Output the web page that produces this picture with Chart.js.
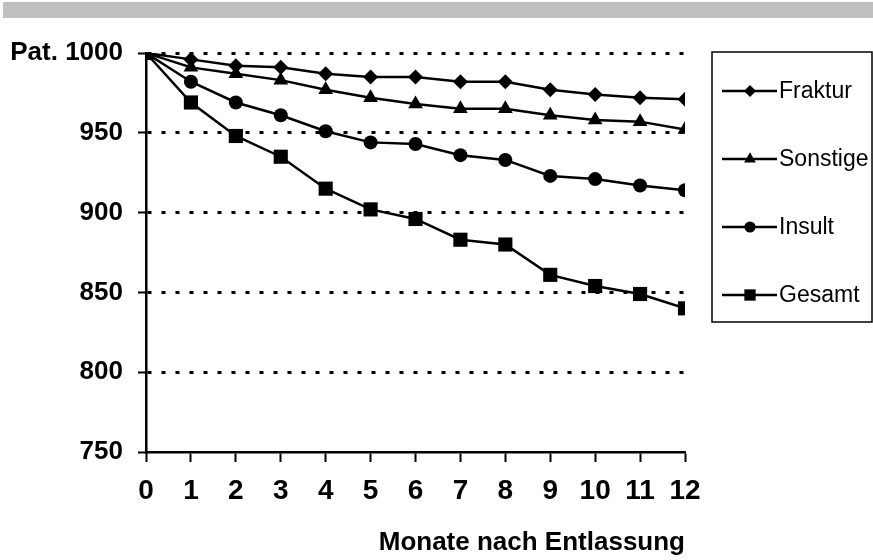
<!DOCTYPE html>
<html>
<head>
<meta charset="utf-8">
<script src="https://cdn.jsdelivr.net/npm/chart.js@4.4.0/dist/chart.umd.min.js"></script>
<style>
  html, body { margin: 0; padding: 0; background: #fff; }
  #wrap { position: relative; width: 873px; height: 560px; }
  #bar { position: absolute; left: 3px; top: 2px; width: 870px; height: 16px; background: #c0c0c0; }
  #chart { position: absolute; left: 0; top: 0; }
</style>
</head>
<body>
<div id="wrap">
  <div id="bar"></div>
  <canvas id="chart" width="873" height="560"></canvas>
</div>
<script>
// months after discharge
const months = [0, 1, 2, 3, 4, 5, 6, 7, 8, 9, 10, 11, 12];

// patients remaining (per 1000)
const fraktur  = [1000, 996, 992, 991, 987, 985, 985, 982, 982, 977, 974, 972, 971];
const sonstige = [1000, 991, 987, 983, 977, 972, 968, 965, 965, 961, 958, 957, 952];
const insult   = [1000, 982, 969, 961, 951, 944, 943, 936, 933, 923, 921, 917, 914];
const gesamt   = [1000, 969, 948, 935, 915, 902, 896, 883, 880, 861, 854, 849, 840];

const seriesLabels = ['Fraktur', 'Sonstige', 'Insult', 'Gesamt'];
const yTicks = [750, 800, 850, 900, 950, 1000];

const FONT = '"Liberation Sans", Arial, sans-serif';

function makeSet(label, values, style, radius) {
    return {
        label: label,
        data: months.map((m, i) => ({ x: m, y: values[i] })),
        borderColor: '#000',
        backgroundColor: '#000',
        borderWidth: 2.5,
        pointStyle: style,
        pointRadius: radius,
        pointHoverRadius: radius,
        pointBorderWidth: 0,
        tension: 0
    };
}

// legend drawn in a framed box at the right
const boxLegend = {
    id: 'boxLegend',
    afterDraw(chart) {
        const ctx = chart.ctx;
        ctx.save();
        ctx.strokeStyle = '#000';
        ctx.lineWidth = 1.5;
        ctx.strokeRect(712, 52, 160, 270);
        const rows = [91, 159, 227, 295];
        chart.data.datasets.forEach((ds, i) => {
            const y = rows[i];
            ctx.strokeStyle = '#000';
            ctx.lineWidth = 2.5;
            ctx.beginPath();
            ctx.moveTo(722, y);
            ctx.lineTo(777, y);
            ctx.stroke();
            ctx.fillStyle = '#000';
            Chart.helpers.drawPoint(ctx, {
                pointStyle: ds.pointStyle,
                radius: ds.pointRadius * 0.8,
                borderWidth: 0,
                rotation: 0
            }, 750, y);
            ctx.fillStyle = '#000';
            ctx.font = '23px ' + FONT;
            ctx.textAlign = 'left';
            ctx.textBaseline = 'middle';
            ctx.fillText(ds.label, 779, y + 1);
        });
        ctx.restore();
    }
};

const ctx = document.getElementById('chart').getContext('2d');
new Chart(ctx, {
    type: 'line',
    data: {
        datasets: [
            makeSet(seriesLabels[0], fraktur, 'rectRot', 7.5),
            makeSet(seriesLabels[1], sonstige, 'triangle', 8.5),
            makeSet(seriesLabels[2], insult, 'circle', 7),
            makeSet(seriesLabels[3], gesamt, 'rect', 10)
        ]
    },
    options: {
        responsive: false,
        animation: false,
        layout: {
            padding: { top: 53, right: 188, left: 0, bottom: 0 }
        },
        plugins: {
            legend: { display: false },
            tooltip: { enabled: false }
        },
        scales: {
            x: {
                type: 'linear',
                min: 0,
                max: 12,
                afterFit: (scale) => { scale.height = 108; },
                ticks: {
                    stepSize: 1,
                    color: '#000',
                    padding: 12,
                    font: { family: FONT, size: 28, weight: 'bold' }
                },
                grid: {
                    drawOnChartArea: false,
                    drawTicks: true,
                    tickLength: 10,
                    tickColor: '#000',
                    tickWidth: 2
                },
                border: { color: '#000', width: 2.5 },
                title: {
                    display: true,
                    text: 'Monate nach Entlassung',
                    align: 'end',
                    color: '#000',
                    font: { family: FONT, size: 26, weight: 'bold' },
                    padding: { top: 0, bottom: 2 }
                }
            },
            y: {
                min: 750,
                max: 1000,
                afterFit: (scale) => { scale.width = 146; },
                afterBuildTicks: (scale) => {
                    scale.ticks = yTicks.map(v => ({ value: v }));
                },
                ticks: {
                    color: '#000',
                    padding: 15,
                    font: { family: FONT, size: 26, weight: 'bold' },
                    callback: (v) => v === 1000 ? 'Pat. 1000' : v
                },
                grid: {
                    color: (c) => (c.tick && c.tick.value === 750) ? 'rgba(0,0,0,0)' : '#000',
                    lineWidth: 3,
                    tickBorderDash: [],
                    tickColor: '#000',
                    tickWidth: 2,
                    tickLength: 8
                },
                border: { color: '#000', width: 2.5, dash: [4, 10] }
            }
        }
    },
    plugins: [boxLegend]
});
</script>
</body>
</html>
